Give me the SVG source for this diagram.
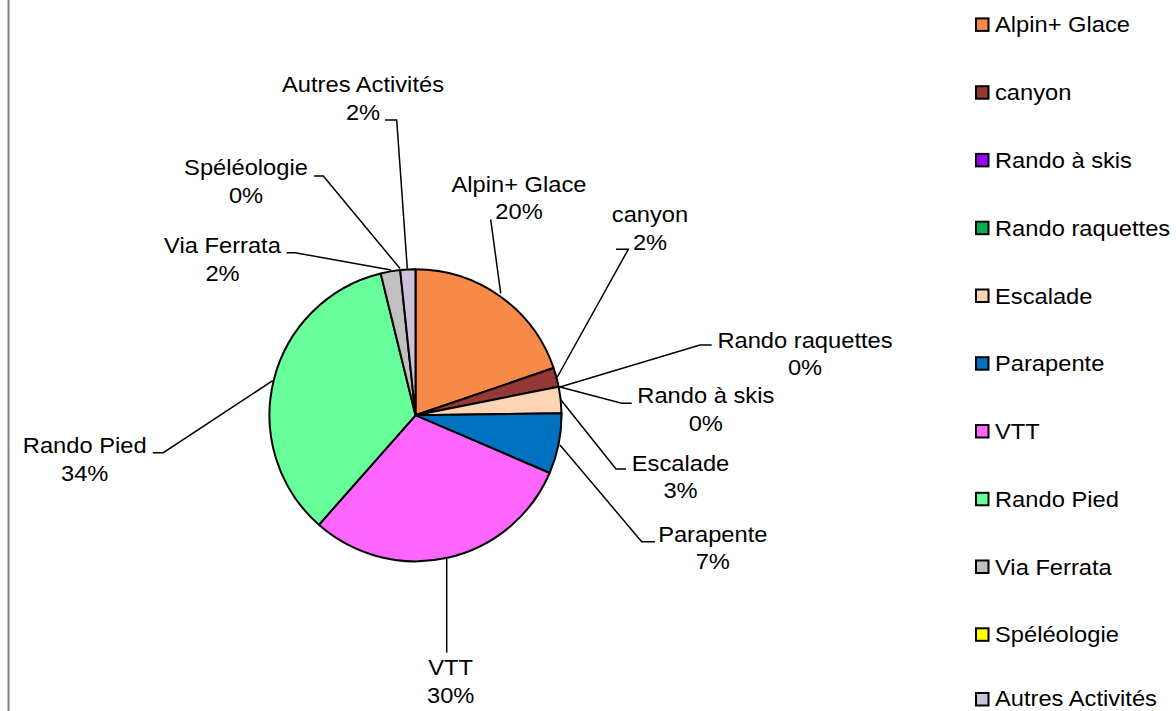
<svg xmlns="http://www.w3.org/2000/svg" width="1176" height="711" viewBox="0 0 1176 711">
<style>
.sl{stroke:#000;stroke-width:2;stroke-linejoin:round}
.ld{fill:none;stroke:#000;stroke-width:1.5}
.t{font-family:"Liberation Sans",Arial,sans-serif;font-size:22px;fill:#000}
.m{text-anchor:middle}
.sq{stroke:#000;stroke-width:2}
</style>
<rect x="0" y="0" width="1176" height="711" fill="#fff"/>
<line x1="8.5" y1="0" x2="8.5" y2="711" stroke="#808080" stroke-width="2"/>
<g id="pie">
<path id="s-alpin" class="sl" fill="#F78A48" d="M415.5,415.3 L415.5,269.3 A146,146 0 0 1 553.6,368 Z"/>
<path id="s-canyon" class="sl" fill="#953735" d="M415.5,415.3 L553.6,368 A146,146 0 0 1 558.7,386.7 Z"/>
<path id="s-escalade" class="sl" fill="#FCD5B5" d="M415.5,415.3 L558.7,386.7 A146,146 0 0 1 561.5,413.3 Z"/>
<path id="s-parapente" class="sl" fill="#0070C0" d="M415.5,415.3 L561.5,413.3 A146,146 0 0 1 549.6,473 Z"/>
<path id="s-vtt" class="sl" fill="#FF66FF" d="M415.5,415.3 L549.6,473 A146,146 0 0 1 318.9,524.8 Z"/>
<path id="s-randopied" class="sl" fill="#66FF99" d="M415.5,415.3 L318.9,524.8 A146,146 0 0 1 380.7,273.5 Z"/>
<path id="s-via" class="sl" fill="#C0C0C0" d="M415.5,415.3 L380.7,273.5 A146,146 0 0 1 400.2,270.1 Z"/>
<path id="s-autres" class="sl" fill="#CCC0DA" d="M415.5,415.3 L400.2,270.1 A146,146 0 0 1 415.5,269.3 Z"/>
</g>
<g id="connectors">
<polyline class="ld" points="385,120 396.7,120 407.3,268.5"/>
<polyline class="ld" points="314,176 323.3,176 400,268.5"/>
<polyline class="ld" points="286.7,252.7 295,252.7 391,270"/>
<polyline class="ld" points="490.7,219.5 500.7,293.3"/>
<polyline class="ld" points="616,249.3 628.3,249.3 557.3,377"/>
<polyline class="ld" points="560,387 700,345 711.7,345"/>
<polyline class="ld" points="560,387 621.7,403.3 631.7,403.3"/>
<polyline class="ld" points="561,400 616,469 626,469"/>
<polyline class="ld" points="560,445 641.7,541.7 655,541.7"/>
<polyline class="ld" points="446.7,558.3 446.7,652.7"/>
<polyline class="ld" points="272.7,380.7 163.3,452.7 152.7,452.7"/>
</g>
<g id="labels">
<g id="l-autres"><text class="t m" transform="translate(363 92.3) scale(1.077 1)"><tspan x="0" y="0">Autres Activités</tspan><tspan x="0" y="27.7">2%</tspan></text></g>
<g id="l-speleo"><text class="t m" transform="translate(246 175) scale(1.077 1)"><tspan x="0" y="0">Spéléologie</tspan><tspan x="0" y="28">0%</tspan></text></g>
<g id="l-via"><text class="t m" transform="translate(222.5 253.3) scale(1.077 1)"><tspan x="0" y="0">Via Ferrata</tspan><tspan x="0" y="27.7">2%</tspan></text></g>
<g id="l-alpin"><text class="t m" transform="translate(519 191.7) scale(1.077 1)"><tspan x="0" y="0">Alpin+ Glace</tspan><tspan x="0" y="27.5">20%</tspan></text></g>
<g id="l-canyon"><text class="t m" transform="translate(650 222.3) scale(1.077 1)"><tspan x="0" y="0">canyon</tspan><tspan x="0" y="27.7">2%</tspan></text></g>
<g id="l-raquettes"><text class="t m" transform="translate(805 348) scale(1.077 1)"><tspan x="0" y="0">Rando raquettes</tspan><tspan x="0" y="27.5">0%</tspan></text></g>
<g id="l-skis"><text class="t m" transform="translate(705.8 403.3) scale(1.077 1)"><tspan x="0" y="0">Rando à skis</tspan><tspan x="0" y="27.7">0%</tspan></text></g>
<g id="l-escalade"><text class="t m" transform="translate(680.5 470.7) scale(1.077 1)"><tspan x="0" y="0">Escalade</tspan><tspan x="0" y="27.6">3%</tspan></text></g>
<g id="l-parapente"><text class="t m" transform="translate(712.8 541.7) scale(1.077 1)"><tspan x="0" y="0">Parapente</tspan><tspan x="0" y="27.5">7%</tspan></text></g>
<g id="l-vtt"><text class="t m" transform="translate(450.7 675) scale(1.077 1)"><tspan x="0" y="0">VTT</tspan><tspan x="0" y="28.5">30%</tspan></text></g>
<g id="l-randopied"><text class="t m" transform="translate(84.7 452.7) scale(1.077 1)"><tspan x="0" y="0">Rando Pied</tspan><tspan x="0" y="28">34%</tspan></text></g>
</g>
<g id="legend">
<g id="lg-alpin"><rect class="sq" x="976" y="18.4" width="12.5" height="12.5" fill="#F78A48"/><text class="t" transform="translate(995 32.4) scale(1.077 1)">Alpin+ Glace</text></g>
<g id="lg-canyon"><rect class="sq" x="976" y="86.2" width="12.5" height="12.5" fill="#953735"/><text class="t" transform="translate(995 100.2) scale(1.077 1)">canyon</text></g>
<g id="lg-skis"><rect class="sq" x="976" y="153.9" width="12.5" height="12.5" fill="#9900FF"/><text class="t" transform="translate(995 167.9) scale(1.077 1)">Rando à skis</text></g>
<g id="lg-raquettes"><rect class="sq" x="976" y="221.7" width="12.5" height="12.5" fill="#00B050"/><text class="t" transform="translate(995 235.7) scale(1.077 1)">Rando raquettes</text></g>
<g id="lg-escalade"><rect class="sq" x="976" y="289.5" width="12.5" height="12.5" fill="#FCD5B5"/><text class="t" transform="translate(995 303.5) scale(1.077 1)">Escalade</text></g>
<g id="lg-parapente"><rect class="sq" x="976" y="357.2" width="12.5" height="12.5" fill="#0070C0"/><text class="t" transform="translate(995 371.2) scale(1.077 1)">Parapente</text></g>
<g id="lg-vtt"><rect class="sq" x="976" y="425" width="12.5" height="12.5" fill="#FF66FF"/><text class="t" transform="translate(995 439) scale(1.077 1)">VTT</text></g>
<g id="lg-randopied"><rect class="sq" x="976" y="492.8" width="12.5" height="12.5" fill="#66FF99"/><text class="t" transform="translate(995 506.8) scale(1.077 1)">Rando Pied</text></g>
<g id="lg-via"><rect class="sq" x="976" y="560.5" width="12.5" height="12.5" fill="#C0C0C0"/><text class="t" transform="translate(995 574.5) scale(1.077 1)">Via Ferrata</text></g>
<g id="lg-speleo"><rect class="sq" x="976" y="628.3" width="12.5" height="12.5" fill="#FFFF00"/><text class="t" transform="translate(995 642.3) scale(1.077 1)">Spéléologie</text></g>
<g id="lg-autres"><rect class="sq" x="976" y="693" width="12.5" height="12.5" fill="#CCC0DA"/><text class="t" transform="translate(995 706) scale(1.077 1)">Autres Activités</text></g>
</g>
</svg>
